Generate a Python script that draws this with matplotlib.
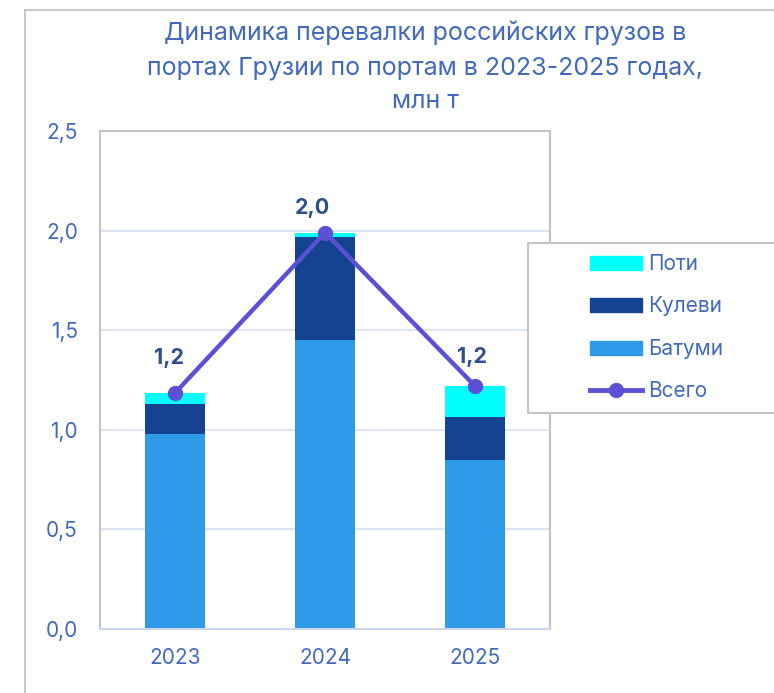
import matplotlib
matplotlib.use("Agg")
import matplotlib.pyplot as plt
from matplotlib.patches import Rectangle, Patch
from matplotlib.lines import Line2D
import numpy as np

plt.rcParams['font.family'] = ['Inter', 'DejaVu Sans']

years = ["2023", "2024", "2025"]
batumi = [0.98, 1.45, 0.85]
kulevi = [0.15, 0.52, 0.215]
poti = [0.055, 0.02, 0.155]
total = [1.185, 1.99, 1.22]
total_labels = ["1,2", "2,0", "1,2"]
yticks = [0.0, 0.5, 1.0, 1.5, 2.0, 2.5]
ytick_labels = ["0,0", "0,5", "1,0", "1,5", "2,0", "2,5"]
title = "Динамика перевалки российских грузов в\nпортах Грузии по портам в 2023-2025 годах,\nмлн т"

c_poti = "#00FFFF"
c_kulevi = "#134391"
c_batumi = "#2E9AE8"
c_line = "#5B50D6"
c_text = "#4169BE"
c_label = "#2F4F8F"

W, H = 774, 693
fig = plt.figure(figsize=(W / 100, H / 100), dpi=100)
ax = fig.add_axes([100 / W, 1 - 629 / H, 450 / W, 498 / H])

x = np.arange(len(years))
bw = 0.4
ax.bar(x, batumi, bw, color=c_batumi, zorder=2)
ax.bar(x, kulevi, bw, bottom=batumi, color=c_kulevi, zorder=2)
bottom2 = [a + b for a, b in zip(batumi, kulevi)]
ax.bar(x, poti, bw, bottom=bottom2, color=c_poti, zorder=2)
ax.plot(x, total, color=c_line, lw=3.2, marker='o', ms=10, zorder=3,
        solid_capstyle='round')

offsets = [(-6, 35), (-13, 25), (-3, 29)]
for xi, yi, lab, off in zip(x, total, total_labels, offsets):
    ax.annotate(lab, (xi, yi), xytext=off, textcoords='offset pixels',
                ha='center', va='center', fontsize=15.5, fontweight='bold',
                color=c_label, zorder=4)

ax.set_xlim(-0.5, 2.5)
ax.set_ylim(0, 2.5)
ax.set_yticks(yticks)
ax.set_yticklabels(ytick_labels)
ax.set_xticks(x)
ax.set_xticklabels(years)
ax.tick_params(axis='both', length=0, labelsize=15, labelcolor=c_text)
ax.tick_params(axis='y', pad=16)
ax.tick_params(axis='x', pad=14)
ax.yaxis.grid(True, color="#D6DEF0", lw=1.2, zorder=0)
ax.set_axisbelow(True)
for s in ['left', 'top', 'right']:
    ax.spines[s].set_color("#C4C4C4")
    ax.spines[s].set_linewidth(1.5)
ax.spines['bottom'].set_color("#CCD6EC")
ax.spines['bottom'].set_linewidth(1.5)

# outer chart frame
fig.add_artist(Rectangle((25 / W, -0.1), 1.2, 1 - 10 / H + 0.1,
                         transform=fig.transFigure, fill=False,
                         edgecolor="#C8C8C8", lw=1.5, clip_on=False))

fig.text(425 / W, 1 - 67 / H, title, ha='center', va='center',
         fontsize=18, color=c_text, linespacing=1.55)

# legend frame
fig.add_artist(Rectangle((528 / W, 1 - 413 / H), 300 / W, 170 / H,
                         transform=fig.transFigure, facecolor='white',
                         edgecolor="#C4C4C4", lw=1.5, zorder=5))
handles = [Patch(color=c_poti), Patch(color=c_kulevi), Patch(color=c_batumi),
           Line2D([], [], color=c_line, lw=3.5, marker='o', ms=10)]
labels = ["Поти", "Кулеви", "Батуми", "Всего"]
leg = fig.legend(handles, labels, loc='upper left',
                 bbox_to_anchor=(590 / W, 1 - 254 / H), frameon=False,
                 fontsize=15, labelcolor=c_text, handlelength=2.5,
                 handleheight=0.65, handletextpad=0.3, labelspacing=1.08,
                 borderpad=0, borderaxespad=0)
leg.set_zorder(6)

fig.savefig("out.png", dpi=100)
